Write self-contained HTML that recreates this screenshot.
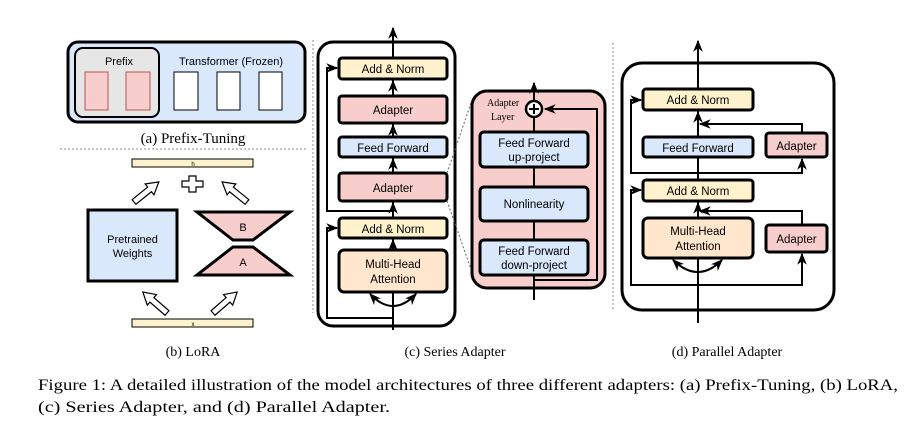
<!DOCTYPE html>
<html><head><meta charset="utf-8"><style>
html,body{margin:0;padding:0;background:#fff;}
svg{display:block;}
.s{font-family:"Liberation Sans","DejaVu Sans",sans-serif;}
.r{font-family:"Liberation Serif","Times New Roman",serif;}
</style></head><body>
<svg width="912" height="439" viewBox="0 0 912 439" xmlns="http://www.w3.org/2000/svg">
<defs>
<marker id="ar" viewBox="0 0 10 10" refX="9" refY="5" markerWidth="6" markerHeight="6" orient="auto-start-reverse">
<path d="M0,1 L10,5 L0,9 L3,5 z" fill="#000"/></marker>
</defs>
<!-- (a) Prefix tuning -->
<rect x="68" y="42" width="237" height="80" rx="10" fill="#dae8fc" stroke="#000" stroke-width="3"/>
<rect x="75" y="48" width="84" height="69" rx="8" fill="#e6e6e6" stroke="#000" stroke-width="2"/>
<rect x="85" y="72" width="23" height="38" fill="#f8cecc" stroke="#b85450"/>
<rect x="126" y="72" width="24" height="38" fill="#f8cecc" stroke="#b85450"/>
<rect x="174" y="72" width="24" height="38" fill="#fff" stroke="#000"/>
<rect x="217" y="72" width="23" height="38" fill="#fff" stroke="#000"/>
<rect x="259" y="72" width="23" height="38" fill="#fff" stroke="#000"/>
<text x="119" y="65" class="s" font-size="11" text-anchor="middle">Prefix</text>
<text x="231" y="65" class="s" font-size="11" text-anchor="middle">Transformer (Frozen)</text>
<text x="193" y="143" class="r" font-size="15" text-anchor="middle">(a) Prefix-Tuning</text>
<line x1="60" y1="149" x2="307" y2="149" stroke="#888" stroke-dasharray="2,2"/>
<!-- (b) LoRA -->
<rect x="132" y="159" width="121" height="8" fill="#fff2cc" stroke="#000"/>
<text x="193" y="166" class="s" font-size="6" text-anchor="middle">h</text>
<path d="M189,176 h7 v5 h7 v6 h-7 v5 h-7 v-5 h-7 v-6 h7 z" fill="#fff" stroke="#000" stroke-width="1.2"/>
<g fill="#fff" stroke="#000" stroke-width="1.2">
<polygon points="0,-3 20,-3 20,-7 32,0 20,7 20,3 0,3" transform="translate(134,202) rotate(-39)"/>
<polygon points="0,-3 20,-3 20,-7 32,0 20,7 20,3 0,3" transform="translate(247,202) rotate(-141)"/>
<polygon points="0,-3 20,-3 20,-7 32,0 20,7 20,3 0,3" transform="translate(167,313) rotate(-139)"/>
<polygon points="0,-3 20,-3 20,-7 32,0 20,7 20,3 0,3" transform="translate(213,313) rotate(-41)"/>
</g>
<rect x="88" y="210" width="89" height="71" fill="#dae8fc" stroke="#000" stroke-width="3"/>
<text x="132.5" y="243" class="s" font-size="11" text-anchor="middle">Pretrained</text>
<text x="132.5" y="257" class="s" font-size="11" text-anchor="middle">Weights</text>
<polygon points="197,212 290,212 253,240 233,240" fill="#f8cecc" stroke="#000" stroke-width="3"/>
<polygon points="233,247 253,247 290,275 197,275" fill="#f8cecc" stroke="#000" stroke-width="3"/>
<text x="243" y="231" class="s" font-size="11" text-anchor="middle">B</text>
<text x="243" y="266" class="s" font-size="11" text-anchor="middle">A</text>
<rect x="132" y="319" width="121" height="8" fill="#fff2cc" stroke="#000"/>
<text x="193" y="326" class="s" font-size="6" text-anchor="middle">x</text>
<text x="193" y="356" class="r" font-size="14" text-anchor="middle">(b) LoRA</text>
<!-- (c) Series -->
<line x1="313" y1="40" x2="313" y2="313" stroke="#888" stroke-dasharray="2,2"/>
<rect x="318" y="42" width="137" height="284" rx="15" fill="#fff" stroke="#000" stroke-width="3"/>
<line x1="393" y1="330" x2="393" y2="28" stroke="#000" stroke-width="2" marker-end="url(#ar)"/>
<g stroke="#000" stroke-width="2" fill="none">
<path d="M393,211 H327 V68 H337" marker-end="url(#ar)"/>
<path d="M393,318 H327 V228 H337" marker-end="url(#ar)"/>
<path d="M370,294 Q393,318 416,294" marker-start="url(#ar)" marker-end="url(#ar)"/>
<line x1="393" y1="96" x2="393" y2="81" marker-end="url(#ar)"/>
<line x1="393" y1="137" x2="393" y2="125" marker-end="url(#ar)"/>
<line x1="393" y1="173" x2="393" y2="159" marker-end="url(#ar)"/>
<line x1="393" y1="218" x2="393" y2="203" marker-end="url(#ar)"/>
<line x1="393" y1="250" x2="393" y2="240" marker-end="url(#ar)"/>
</g>
<g stroke="#000" stroke-width="3">
<rect x="339" y="58" width="108" height="21" rx="3" fill="#fff2cc"/>
<rect x="339" y="96" width="108" height="27" rx="3" fill="#f8cecc"/>
<rect x="339" y="137" width="108" height="20" rx="3" fill="#dae8fc"/>
<rect x="339" y="173" width="108" height="28" rx="3" fill="#f8cecc"/>
<rect x="339" y="218" width="108" height="20" rx="3" fill="#fff2cc"/>
<rect x="339" y="250" width="108" height="42" rx="5" fill="#ffe6cc"/>
</g>
<g class="s" font-size="11.5" text-anchor="middle">
<text x="393" y="73">Add &amp; Norm</text>
<text x="393" y="114">Adapter</text>
<text x="393" y="152">Feed Forward</text>
<text x="393" y="192">Adapter</text>
<text x="393" y="233">Add &amp; Norm</text>
<text x="393" y="268">Multi-Head</text>
<text x="393" y="283">Attention</text>
</g>
<line x1="447" y1="173" x2="472" y2="100" stroke="#666" stroke-dasharray="2,2"/>
<line x1="447" y1="201" x2="472" y2="272" stroke="#666" stroke-dasharray="2,2"/>
<rect x="472" y="91" width="133" height="197" rx="15" fill="#f8cecc" stroke="#000" stroke-width="3"/>
<line x1="534" y1="300" x2="534" y2="83" stroke="#000" stroke-width="2" marker-end="url(#ar)"/>
<path d="M534,280 H597 V109 H545" fill="none" stroke="#000" stroke-width="2" marker-end="url(#ar)"/>
<circle cx="534" cy="109" r="8" fill="#fff" stroke="#000" stroke-width="2.5"/>
<path d="M529,109 h10 M534,104 v10" stroke="#000" stroke-width="2"/>
<text x="487" y="106" class="r" font-size="10">Adapter</text>
<text x="491" y="120" class="r" font-size="10">Layer</text>
<g stroke="#000" stroke-width="3" fill="#dae8fc">
<rect x="480" y="132" width="108" height="35" rx="4"/>
<rect x="480" y="187" width="108" height="34" rx="4"/>
<rect x="480" y="240" width="108" height="35" rx="4"/>
</g>
<g class="s" font-size="11.5" text-anchor="middle">
<text x="534" y="147">Feed Forward</text>
<text x="534" y="161">up-project</text>
<text x="534" y="208">Nonlinearity</text>
<text x="534" y="255">Feed Forward</text>
<text x="534" y="269">down-project</text>
</g>
<text x="455" y="356" class="r" font-size="14" text-anchor="middle">(c) Series Adapter</text>
<!-- (d) Parallel -->
<line x1="613" y1="43" x2="613" y2="310" stroke="#888" stroke-dasharray="2,2"/>
<rect x="622" y="63" width="212" height="247" rx="20" fill="#fff" stroke="#000" stroke-width="3"/>
<line x1="698" y1="323" x2="698" y2="41" stroke="#000" stroke-width="2" marker-end="url(#ar)"/>
<g stroke="#000" stroke-width="2" fill="none">
<path d="M698,173 H631 V100 H641" marker-end="url(#ar)"/>
<path d="M698,173 H802 V159" marker-end="url(#ar)"/>
<path d="M802,133 V124 H700" marker-end="url(#ar)"/>
<path d="M698,285 H631 V190 H641" marker-end="url(#ar)"/>
<path d="M698,285 H802 V254" marker-end="url(#ar)"/>
<path d="M802,225 V211 H700" marker-end="url(#ar)"/>
<path d="M673,260 Q698,284 722,260" marker-start="url(#ar)" marker-end="url(#ar)"/>
<line x1="698" y1="137" x2="698" y2="112" marker-end="url(#ar)"/>
<line x1="698" y1="218" x2="698" y2="203" marker-end="url(#ar)"/>
</g>
<g stroke="#000" stroke-width="3">
<rect x="643" y="89" width="110" height="21" rx="3" fill="#fff2cc"/>
<rect x="643" y="137" width="110" height="20" rx="3" fill="#dae8fc"/>
<rect x="766" y="133" width="61" height="24" rx="3" fill="#f8cecc"/>
<rect x="643" y="180" width="110" height="21" rx="3" fill="#fff2cc"/>
<rect x="643" y="218" width="110" height="40" rx="5" fill="#ffe6cc"/>
<rect x="766" y="225" width="61" height="27" rx="3" fill="#f8cecc"/>
</g>
<g class="s" font-size="11.5" text-anchor="middle">
<text x="698" y="104">Add &amp; Norm</text>
<text x="698" y="152">Feed Forward</text>
<text x="796.5" y="150">Adapter</text>
<text x="698" y="195">Add &amp; Norm</text>
<text x="698" y="235">Multi-Head</text>
<text x="698" y="250">Attention</text>
<text x="796.5" y="243">Adapter</text>
</g>
<text x="727" y="356" class="r" font-size="14" text-anchor="middle">(d) Parallel Adapter</text>
<!-- caption -->
<text x="38" y="390" class="r" font-size="16" textLength="860" lengthAdjust="spacingAndGlyphs">Figure 1: A detailed illustration of the model architectures of three different adapters: (a) Prefix-Tuning, (b) LoRA,</text>
<text x="38" y="412" class="r" font-size="16" textLength="352" lengthAdjust="spacingAndGlyphs">(c) Series Adapter, and (d) Parallel Adapter.</text>
</svg>
</body></html>
